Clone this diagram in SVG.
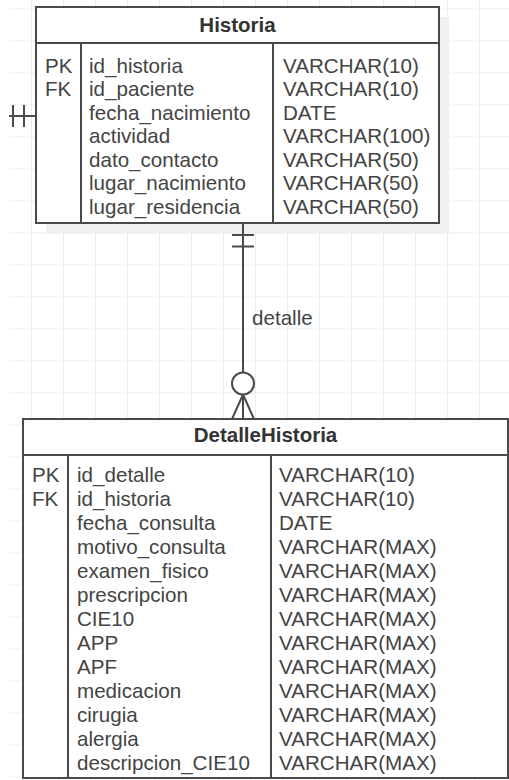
<svg xmlns="http://www.w3.org/2000/svg" width="509" height="780" viewBox="0 0 509 780">
<style>
.grid{stroke:#ececec;stroke-width:1}
.box{fill:#fff;stroke:#4a4a4a;stroke-width:2}
.ln{stroke:#4a4a4a;stroke-width:2;fill:none}
.t{font-family:"Liberation Sans",Arial,sans-serif;font-size:20.6px;fill:#444}
.h{font-family:"Liberation Sans",Arial,sans-serif;font-size:20.5px;font-weight:bold;fill:#333;text-anchor:middle}
</style>
<defs>
<pattern id="g" x="31" y="8.5" width="32" height="32" patternUnits="userSpaceOnUse">
<path d="M0.5 0V32M0 0.5H32" class="grid"/>
</pattern>
</defs>
<rect width="509" height="780" fill="#fff"/>
<rect x="9" y="0" width="500" height="780" fill="url(#g)"/>
<rect x="46" y="17" width="403" height="217" fill="#f0f0f0"/>
<g id="Historia">
<rect class="box" x="36" y="7" width="403" height="216"/>
<line class="ln" x1="36" y1="43" x2="439" y2="43"/>
<line class="ln" x1="81" y1="43" x2="81" y2="223"/>
<line class="ln" x1="273" y1="43" x2="273" y2="223"/>
<text class="h" x="237.5" y="32">Historia</text>
<text class="t" x="45" y="72.7">PK</text>
<text class="t" x="45" y="96.2">FK</text>
<text class="t" x="89" y="72.7">id_historia</text>
<text class="t" x="89" y="96.2">id_paciente</text>
<text class="t" x="89" y="119.7">fecha_nacimiento</text>
<text class="t" x="89" y="143.2">actividad</text>
<text class="t" x="89" y="166.7">dato_contacto</text>
<text class="t" x="89" y="190.2">lugar_nacimiento</text>
<text class="t" x="89" y="213.7">lugar_residencia</text>
<text class="t" x="283" y="72.7">VARCHAR(10)</text>
<text class="t" x="283" y="96.2">VARCHAR(10)</text>
<text class="t" x="283" y="119.7">DATE</text>
<text class="t" x="283" y="143.2">VARCHAR(100)</text>
<text class="t" x="283" y="166.7">VARCHAR(50)</text>
<text class="t" x="283" y="190.2">VARCHAR(50)</text>
<text class="t" x="283" y="213.7">VARCHAR(50)</text>
</g>
<g id="DetalleHistoria">
<rect class="box" x="23" y="419" width="485" height="359"/>
<line class="ln" x1="23" y1="455" x2="508" y2="455"/>
<line class="ln" x1="68" y1="455" x2="68" y2="778"/>
<line class="ln" x1="271" y1="455" x2="271" y2="778"/>
<text class="h" x="265.5" y="442">DetalleHistoria</text>
<text class="t" x="32" y="481.7">PK</text>
<text class="t" x="32" y="505.7">FK</text>
<text class="t" x="77" y="481.7">id_detalle</text>
<text class="t" x="77" y="505.7">id_historia</text>
<text class="t" x="77" y="529.7">fecha_consulta</text>
<text class="t" x="77" y="553.7">motivo_consulta</text>
<text class="t" x="77" y="577.7">examen_fisico</text>
<text class="t" x="77" y="601.7">prescripcion</text>
<text class="t" x="77" y="625.7">CIE10</text>
<text class="t" x="77" y="649.7">APP</text>
<text class="t" x="77" y="673.7">APF</text>
<text class="t" x="77" y="697.7">medicacion</text>
<text class="t" x="77" y="721.7">cirugia</text>
<text class="t" x="77" y="745.7">alergia</text>
<text class="t" x="77" y="769.7">descripcion_CIE10</text>
<text class="t" x="279" y="481.7">VARCHAR(10)</text>
<text class="t" x="279" y="505.7">VARCHAR(10)</text>
<text class="t" x="279" y="529.7">DATE</text>
<text class="t" x="279" y="553.7">VARCHAR(MAX)</text>
<text class="t" x="279" y="577.7">VARCHAR(MAX)</text>
<text class="t" x="279" y="601.7">VARCHAR(MAX)</text>
<text class="t" x="279" y="625.7">VARCHAR(MAX)</text>
<text class="t" x="279" y="649.7">VARCHAR(MAX)</text>
<text class="t" x="279" y="673.7">VARCHAR(MAX)</text>
<text class="t" x="279" y="697.7">VARCHAR(MAX)</text>
<text class="t" x="279" y="721.7">VARCHAR(MAX)</text>
<text class="t" x="279" y="745.7">VARCHAR(MAX)</text>
<text class="t" x="279" y="769.7">VARCHAR(MAX)</text>
</g>
<g id="connectors">
<path class="ln" d="M9 116H36M13 105V127M24 105V127"/>
<path class="ln" d="M243 223V372M232 235H254M232 246.5H254"/>
<circle class="ln" cx="243" cy="383.5" r="11"/>
<path class="ln" d="M243 394.5V419M243 394.5L232 419M243 394.5L254 419"/>
<text class="t" x="252" y="325">detalle</text>
</g>
</svg>
